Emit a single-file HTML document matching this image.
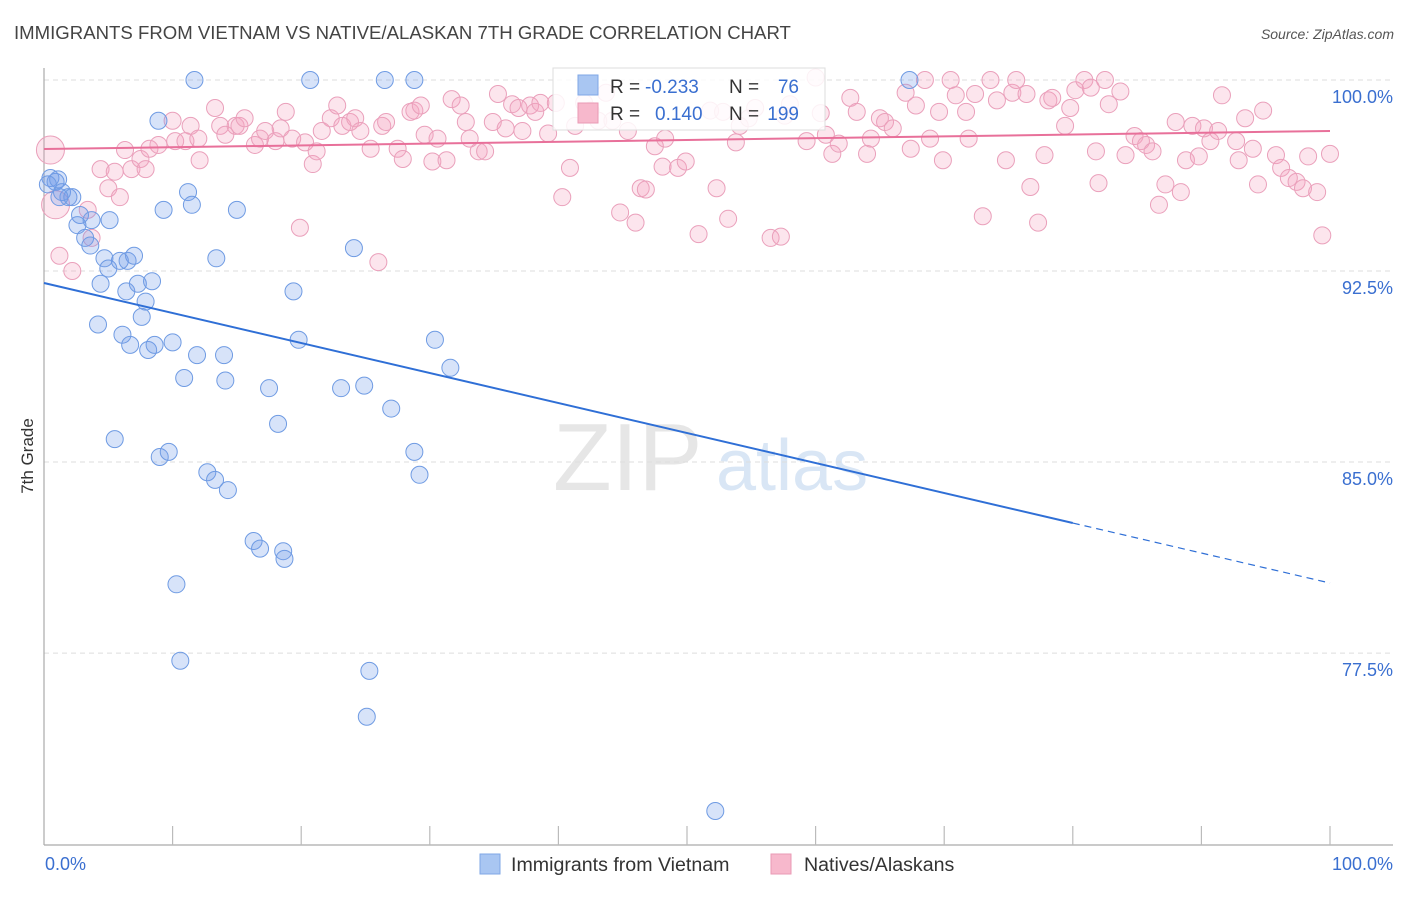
<!DOCTYPE html>
<html><head><meta charset="utf-8">
<style>
body{margin:0;background:#fff;font-family:"Liberation Sans",sans-serif;}
svg text{font-family:"Liberation Sans",sans-serif;}
</style></head>
<body>
<svg id="chart" width="1406" height="892" viewBox="0 0 1406 892" xmlns="http://www.w3.org/2000/svg">
<text x="14" y="39" font-size="18.6" fill="#444">IMMIGRANTS FROM VIETNAM VS NATIVE/ALASKAN 7TH GRADE CORRELATION CHART</text>
<text x="1394" y="39" font-size="14" fill="#555" font-style="italic" text-anchor="end">Source: ZipAtlas.com</text>
<g>
<text x="553" y="490" font-size="96" fill="#e6e6e6" font-family="Liberation Serif,serif">ZIP</text>
<text x="716" y="490" font-size="72" fill="#d9e6f5">atlas</text>
</g>
<g id="grid"></g>
<g id="axes"></g>
<g id="pink"></g>
<g id="blue"></g>
<g id="lines"></g>
<text transform="translate(33,456) rotate(-90)" font-size="17" fill="#333" text-anchor="middle">7th Grade</text>
<g>
<rect x="553" y="68" width="272" height="62" fill="#fff" fill-opacity="0.85" stroke="#ddd"/>
<rect x="578" y="75" width="20" height="20" fill="#a9c6f2" stroke="#7fa7e6"/>
<rect x="578" y="103" width="20" height="20" fill="#f7b8cc" stroke="#ea9ab5"/>
<text x="610" y="93" font-size="19" fill="#333">R =</text>
<text x="645" y="93" font-size="19" fill="#3a6fd0">-0.233</text>
<text x="729" y="93" font-size="19" fill="#333">N =</text>
<text x="799" y="93" font-size="19" fill="#3a6fd0" text-anchor="end">76</text>
<text x="610" y="120" font-size="19" fill="#333">R =</text>
<text x="655" y="120" font-size="19" fill="#3a6fd0">0.140</text>
<text x="729" y="120" font-size="19" fill="#333">N =</text>
<text x="799" y="120" font-size="19" fill="#3a6fd0" text-anchor="end">199</text>
</g>
<g>
<rect x="480" y="854" width="20" height="20" fill="#a9c6f2" stroke="#7fa7e6"/>
<text x="511" y="871" font-size="19.6" fill="#333">Immigrants from Vietnam</text>
<rect x="771" y="854" width="20" height="20" fill="#f7b8cc" stroke="#ea9ab5"/>
<text x="804" y="871" font-size="19.6" fill="#333">Natives/Alaskans</text>
</g>
</svg>
<script>
const yTicks=[100,92.5,85,77.5];
const yTickLabels=["100.0%","92.5%","85.0%","77.5%"];
const xTickLabels=["0.0%","100.0%"];
const blueX=[0.5,0.9,1.1,0.3,1.4,1.9,2.2,1.2,2.8,3.7,5.1,2.6,3.2,3.6,4.7,5.0,5.9,6.5,7.0,4.4,6.4,7.3,7.9,8.4,7.6,4.2,6.1,6.7,8.1,8.6,10.0,8.9,9.3,11.2,11.5,15.0,13.4,11.7,20.7,26.5,28.8,67.3,24.1,19.4,10.9,11.9,14.0,14.1,17.5,19.8,18.2,23.1,24.9,27.0,30.4,31.6,5.5,9.0,9.7,12.7,13.3,14.3,16.3,16.8,18.6,18.7,10.3,10.6,25.3,25.1,52.2,28.8,29.2];
const blueY=[96.15,96.0,96.1,95.9,95.6,95.4,95.4,95.4,94.7,94.5,94.5,94.3,93.8,93.5,93.0,92.6,92.9,92.9,93.1,92.0,91.7,92.0,91.3,92.1,90.7,90.4,90.0,89.6,89.4,89.6,89.7,98.4,94.9,95.6,95.1,94.9,93.0,100,100,100,100,100,93.4,91.7,88.3,89.2,89.2,88.2,87.9,89.8,86.5,87.9,88.0,87.1,89.8,88.7,85.9,85.2,85.4,84.6,84.3,83.9,81.9,81.6,81.5,81.2,80.2,77.2,76.8,75.0,71.3,85.4,84.5];
const pinkX=[0.5,0.9,1.2,2.2,3.4,3.7,4.4,5.0,5.5,5.9,6.3,6.8,7.5,7.9,8.2,8.9,10.0,10.2,11.0,11.4,12.1,12.0,13.3,13.7,14.1,14.9,15.2,15.6,16.4,16.8,17.2,18.0,18.4,18.8,19.3,19.9,20.3,20.9,21.2,21.6,22.3,22.8,23.2,23.8,24.2,24.6,25.4,26.0,26.3,26.6,27.5,27.9,28.5,28.8,29.3,29.6,30.2,30.6,31.3,31.7,32.4,32.8,33.1,33.8,34.3,34.9,35.3,35.9,36.4,36.9,37.2,37.8,38.2,38.6,39.2,39.8,40.3,40.9,41.3,42.0,42.5,43.1,43.7,44.2,44.8,45.4,46.0,46.4,46.8,47.5,48.1,48.3,49.3,49.9,50.9,51.8,52.3,52.8,53.2,53.8,54.1,54.8,55.3,56.5,57.3,57.6,58.0,59.3,60.0,60.4,60.8,61.3,61.8,62.7,63.2,64.0,64.3,65.0,65.4,66.0,67.0,67.4,67.8,68.5,68.9,69.6,69.9,70.5,70.9,71.7,71.9,72.4,73.0,73.6,74.1,74.8,75.3,75.6,76.4,76.7,77.3,77.8,78.1,78.4,79.4,79.8,80.2,80.9,81.4,81.8,82.0,82.5,82.8,83.7,84.1,84.8,85.3,85.7,86.2,86.7,87.2,88.0,88.4,88.8,89.3,89.8,90.2,90.7,91.3,91.6,92.7,92.9,93.4,94.0,94.4,94.8,95.8,96.2,96.8,97.4,97.9,98.3,99.0,99.4,100];
const pinkY=[97.25,95.1,93.1,92.5,94.9,93.8,96.5,95.75,96.4,95.4,97.25,96.5,96.9,96.5,97.3,97.45,98.4,97.6,97.6,98.2,96.85,97.7,98.9,98.2,97.85,98.2,98.2,98.5,97.45,97.7,98.0,97.6,98.1,98.75,97.7,94.2,97.55,96.7,97.2,98.0,98.5,99.0,98.2,98.35,98.5,98.0,97.3,92.85,98.2,98.35,97.3,96.9,98.75,98.8,99.0,97.85,96.8,97.7,96.85,99.25,99.0,98.35,97.7,97.2,97.2,98.35,99.45,98.1,99.05,98.9,98.0,99.0,98.75,99.1,97.9,99.1,95.4,96.55,98.2,99.1,98.8,98.4,99.5,98.4,94.8,98.0,94.4,95.75,95.7,97.4,96.6,97.7,96.55,96.8,93.95,98.8,95.75,98.75,94.55,97.55,98.2,98.5,98.9,93.8,93.85,98.6,99.05,97.6,100.1,98.7,97.85,97.1,97.5,99.3,98.75,97.1,97.7,98.5,98.35,98.1,99.5,97.3,99.0,100,97.7,98.75,96.85,100,99.4,98.75,97.7,99.45,94.65,100,99.2,96.85,99.5,100,99.45,95.8,94.4,97.05,99.2,99.3,98.2,98.9,99.6,100,99.7,97.2,95.95,100,99.05,99.55,97.05,97.8,97.6,97.45,97.2,95.1,95.9,98.35,95.6,96.85,98.2,97.0,98.1,97.6,98.0,99.4,97.6,96.85,98.5,97.3,95.9,98.8,97.05,96.55,96.15,96.0,95.75,97.0,95.6,93.9,97.1];
const blueTrend=[92.03,80.25];
const pinkTrend=[97.29,98.0];

const NS="http://www.w3.org/2000/svg";
const X0=44,X1=1330,Y100=80,PX_PER=25.47;
function xs(p){return X0+(X1-X0)*p/100;}
function ys(v){return Y100+(100-v)*PX_PER;}
function mk(tag,attrs,parent){const e=document.createElementNS(NS,tag);for(const k in attrs)e.setAttribute(k,attrs[k]);parent.appendChild(e);return e;}

const grid=document.getElementById('grid');
yTicks.forEach((v,i)=>{
  const l=mk('line',{x1:X0,x2:1393,y1:ys(v),y2:ys(v),stroke:'#ddd','stroke-dasharray':'5,4'},grid);
  
  
  const t=mk('text',{x:1393,y:ys(v)+23,'font-size':18,fill:'#3a6fd0','text-anchor':'end'},grid);
  t.textContent=yTickLabels[i];
  
  
});
const axes=document.getElementById('axes');
mk('line',{x1:X0,x2:X0,y1:68,y2:845,stroke:'#aaa','stroke-width':1.2},axes);
mk('line',{x1:X0,x2:1393,y1:845,y2:845,stroke:'#aaa','stroke-width':1.2},axes);
for(let i=1;i<=10;i++){mk('line',{x1:xs(i*10),x2:xs(i*10),y1:826,y2:845,stroke:'#bbb','stroke-width':1.2},axes);}
const xl0=mk('text',{x:45,y:870,'font-size':18,fill:'#3a6fd0'},axes);xl0.textContent=xTickLabels[0];


const xl1=mk('text',{x:1393,y:870,'font-size':18,fill:'#3a6fd0','text-anchor':'end'},axes);xl1.textContent=xTickLabels[1];



const pg=document.getElementById('pink');
pinkX.forEach((x,i)=>{
  const r=i<2?14:8.5;
  const c=mk('circle',{cx:xs(x),cy:ys(pinkY[i]),r:r,fill:'rgba(244,160,190,0.28)',stroke:'#eaa0bb','stroke-width':1},pg);
  
  
});
const bg=document.getElementById('blue');
blueX.forEach((x,i)=>{
  const c=mk('circle',{cx:xs(x),cy:ys(blueY[i]),r:8.5,fill:'rgba(110,155,235,0.28)',stroke:'#6f9be3','stroke-width':1},bg);
  
  
});
const lg=document.getElementById('lines');
const bSlope=(blueTrend[1]-blueTrend[0])/100;
const bl=mk('line',{x1:xs(0),y1:ys(blueTrend[0]),x2:xs(80),y2:ys(blueTrend[0]+bSlope*80),stroke:'#2f6fd6','stroke-width':2},lg);


const bd=mk('line',{x1:xs(80),y1:ys(blueTrend[0]+bSlope*80),x2:xs(100),y2:ys(blueTrend[1]),stroke:'#2f6fd6','stroke-width':1.2,'stroke-dasharray':'7,5'},lg);


const pl=mk('line',{x1:xs(0),y1:ys(pinkTrend[0]),x2:xs(100),y2:ys(pinkTrend[1]),stroke:'#e8709a','stroke-width':2},lg);


</script>
</body></html>
